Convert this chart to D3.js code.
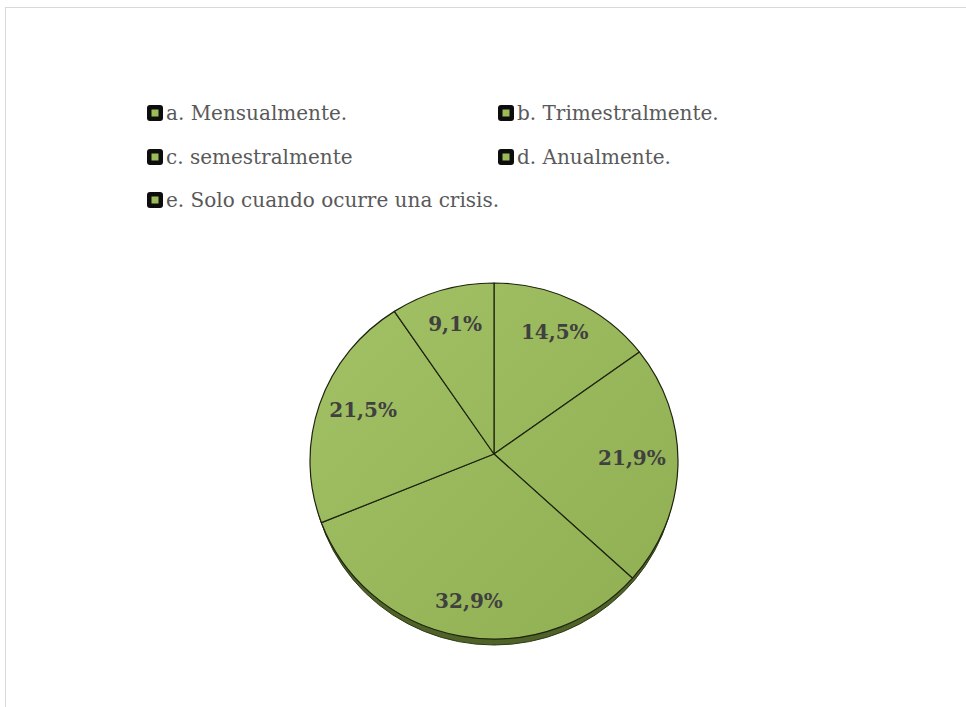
<!DOCTYPE html>
<html lang="es">
<head>
<meta charset="UTF-8">
<script src="https://d3js.org/d3.v7.min.js"></script>
<style>
  body { margin: 0; background: #fff; }
  svg { display: block; }
</style>
</head>
<body>
<div id="chart"></div>
<script>
// categories and values
const categories = ["a. Mensualmente.", "b. Trimestralmente.", "c. semestralmente", "d. Anualmente.", "e. Solo cuando ocurre una crisis."];
const values = [14.5, 21.9, 32.9, 21.5, 9.1];
const labels = ["14,5%", "21,9%", "32,9%", "21,5%", "9,1%"];

const width = 966, height = 707;

const svg = d3.select("#chart")
  .append("svg")
    .attr("width", width)
    .attr("height", height);

// outer frame (only left / top visible)
svg.append("rect")
  .attr("x", 5.5).attr("y", 7.5)
  .attr("width", 980).attr("height", 720)
  .attr("fill", "none")
  .attr("stroke", "#d9d9d9");

const defs = svg.append("defs");
const grad = defs.append("linearGradient")
  .attr("id", "pieFill")
  .attr("gradientUnits", "userSpaceOnUse")
  .attr("x1", 310).attr("y1", 283)
  .attr("x2", 678).attr("y2", 640);
grad.append("stop").attr("offset", "0%").attr("stop-color", "#a2c265");
grad.append("stop").attr("offset", "100%").attr("stop-color", "#90ae52");

// slightly tilted pie: ellipse rim, apex a little above the ellipse centre
const cx = 494, cy = 461, rx = 184, ry = 178;
const apex = [494, 454];
const depth = 6;

const rim = a => [cx + rx * Math.sin(a), cy - ry * Math.cos(a)];

const pie = d3.pie().sort(null).value(d => d)(values);

// side band of the 3D pie
svg.append("ellipse")
  .attr("cx", cx).attr("cy", cy + depth)
  .attr("rx", rx - 2).attr("ry", ry)
  .attr("fill", "#4f6228")
  .attr("stroke", "#2f3a18")
  .attr("stroke-width", 1);

function slicePath(d) {
  const p0 = rim(d.startAngle), p1 = rim(d.endAngle);
  const large = (d.endAngle - d.startAngle) > Math.PI ? 1 : 0;
  return `M${apex[0]},${apex[1]}L${p0[0]},${p0[1]}A${rx},${ry} 0 ${large} 1 ${p1[0]},${p1[1]}Z`;
}

svg.append("g")
  .selectAll("path")
  .data(pie)
  .join("path")
    .attr("d", slicePath)
    .attr("fill", "url(#pieFill)")
    .attr("stroke", "#1e2410")
    .attr("stroke-width", 1.2)
    .attr("stroke-linejoin", "round");

// data labels, pushed out a bit more toward the front of the tilted pie
const mid = d => (d.startAngle + d.endAngle) / 2;
const k = d => 0.8 - 0.04 * Math.cos(mid(d));

svg.append("g")
  .selectAll("text")
  .data(pie)
  .join("text")
    .attr("x", d => apex[0] + 0.75 * rx * Math.sin(mid(d)))
    .attr("y", d => apex[1] - k(d) * ry * Math.cos(mid(d)))
    .attr("text-anchor", "middle")
    .attr("dominant-baseline", "central")
    .attr("font-family", "DejaVu Serif, serif")
    .attr("font-weight", "bold")
    .attr("font-size", 20)
    .attr("fill", "#404040")
    .text((d, i) => labels[i]);

// legend, two columns
const legendX = d3.scaleOrdinal().domain([0, 1]).range([147, 498]);
const legendY = d3.scaleOrdinal().domain([0, 1, 2]).range([113, 157, 200]);

const item = svg.append("g")
  .selectAll("g")
  .data(categories)
  .join("g")
    .attr("transform", (d, i) => `translate(${legendX(i % 2)},${legendY(Math.floor(i / 2))})`);

item.append("rect")
  .attr("x", 0).attr("y", -8)
  .attr("width", 16).attr("height", 16)
  .attr("rx", 3)
  .attr("fill", "#0d0d0d");
item.append("rect")
  .attr("x", 4.5).attr("y", -3.5)
  .attr("width", 7).attr("height", 7)
  .attr("fill", "#9bbb59");
item.append("text")
  .attr("x", 19)
  .attr("y", 0)
  .attr("dominant-baseline", "central")
  .attr("font-family", "DejaVu Serif, serif")
  .attr("font-size", 20)
  .attr("fill", "#595959")
  .text(d => d);
</script>
</body>
</html>
